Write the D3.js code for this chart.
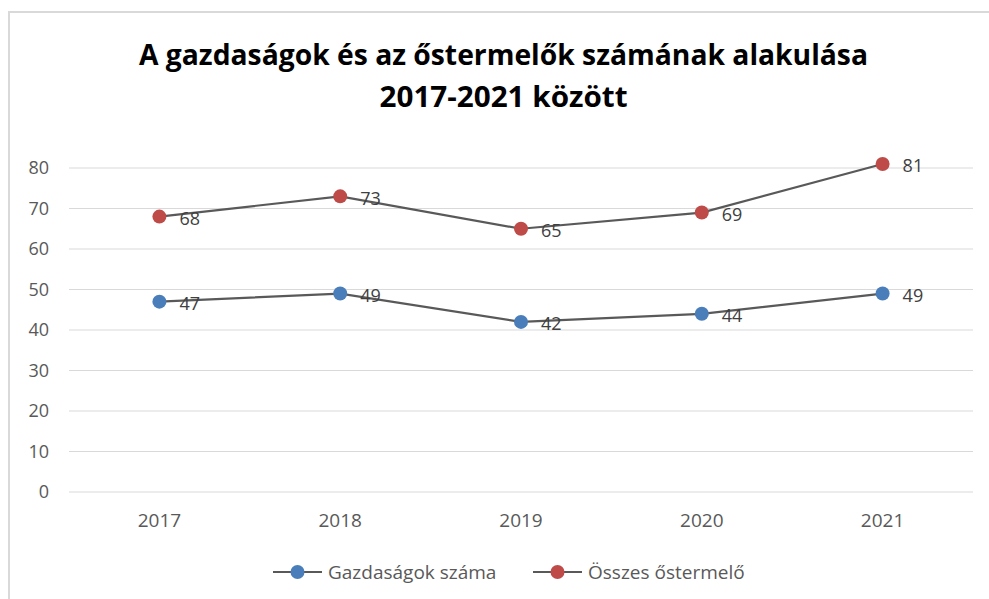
<!DOCTYPE html>
<html>
<head>
<meta charset="utf-8">
<script src="https://cdn.jsdelivr.net/npm/d3@7"></script>
<style>
  body { margin: 0; background: #fff; }
  svg { display: block; }
</style>
</head>
<body>
<div id="chart"></div>
<script>
const years = ["2017", "2018", "2019", "2020", "2021"];
const gazdasagok = [47, 49, 42, 44, 49];
const ostermelok = [68, 73, 65, 69, 81];
const yTicks = [0, 10, 20, 30, 40, 50, 60, 70, 80];
const seriesNames = ["Gazdaságok száma", "Összes őstermelő"];
const seriesColors = ["#4a7ebb", "#be4b48"];
const titleLines = ["A gazdaságok és az őstermelők számának alakulása", "2017-2021 között"];

const W = 989, H = 599;
const margin = {top: 168, right: 16, bottom: 107, left: 69},
      width = W - margin.left - margin.right,
      height = H - margin.top - margin.bottom;
const font = "'Open Sans', sans-serif";

const svg = d3.select("#chart").append("svg")
    .attr("width", W)
    .attr("height", H);

// chart area border (only top and left edges are in frame)
svg.append("rect")
    .attr("x", 9).attr("y", 12)
    .attr("width", W + 20).attr("height", H + 20)
    .attr("fill", "none")
    .attr("stroke", "#d9d9d9")
    .attr("stroke-width", 2);

// title
const titleY = [65, 106.5], titleW = [729, 248];
titleLines.forEach((t, i) => {
    svg.append("text")
        .attr("x", 503.5)
        .attr("y", titleY[i])
        .attr("text-anchor", "middle")
        .attr("textLength", titleW[i])
        .attr("lengthAdjust", "spacingAndGlyphs")
        .style("font-family", font)
        .style("font-weight", "bold")
        .style("font-size", "28px")
        .attr("fill", "#000")
        .text(t);
});

const g = svg.append("g")
    .attr("transform", `translate(${margin.left},${margin.top})`);

const x = d3.scaleBand().domain(years).range([0, width]);
const y = d3.scaleLinear().domain([0, 80]).range([height, 0]);
const cx = d => x(d) + x.bandwidth() / 2;

// gridlines
g.selectAll(".grid")
    .data(yTicks)
    .enter().append("line")
    .attr("x1", 0).attr("x2", width)
    .attr("y1", d => y(d)).attr("y2", d => y(d))
    .attr("stroke", "#d9d9d9")
    .attr("stroke-width", 1);

// y labels
g.selectAll(".ylab")
    .data(yTicks)
    .enter().append("text")
    .attr("x", -20)
    .attr("y", d => y(d))
    .attr("dy", "0.35em")
    .attr("text-anchor", "end")
    .style("font-family", font)
    .style("font-size", "18px")
    .attr("fill", "#595959")
    .text(d => d);

// x labels
g.selectAll(".xlab")
    .data(years)
    .enter().append("text")
    .attr("x", d => cx(d))
    .attr("y", height + 35)
    .attr("text-anchor", "middle")
    .style("font-family", font)
    .style("font-size", "19px")
    .attr("fill", "#595959")
    .text(d => d);

const line = d3.line()
    .x((d, i) => cx(years[i]))
    .y(d => y(d));

[gazdasagok, ostermelok].forEach((vals, si) => {
    g.append("path")
        .datum(vals)
        .attr("fill", "none")
        .attr("stroke", "#595959")
        .attr("stroke-width", 2.2)
        .attr("d", line);

    g.selectAll(".pt" + si)
        .data(vals)
        .enter().append("circle")
        .attr("cx", (d, i) => cx(years[i]))
        .attr("cy", d => y(d))
        .attr("r", 7)
        .attr("fill", seriesColors[si]);

    g.selectAll(".lab" + si)
        .data(vals)
        .enter().append("text")
        .attr("x", (d, i) => cx(years[i]) + 20)
        .attr("y", d => y(d) + 2)
        .attr("dy", "0.35em")
        .style("font-family", font)
        .style("font-size", "18px")
        .attr("fill", "#404040")
        .text(d => d);
});

// legend
const legendX = [273, 533];
seriesNames.forEach((name, i) => {
    const lg = svg.append("g").attr("transform", `translate(${legendX[i]},572)`);
    lg.append("line")
        .attr("x1", 0).attr("x2", 49)
        .attr("stroke", "#595959").attr("stroke-width", 2.2);
    lg.append("circle")
        .attr("cx", 24.5).attr("r", 7)
        .attr("fill", seriesColors[i]);
    lg.append("text")
        .attr("x", 55).attr("dy", "0.35em")
        .style("font-family", font)
        .style("font-size", "19px")
        .attr("fill", "#595959")
        .text(name);
});
</script>
</body>
</html>
